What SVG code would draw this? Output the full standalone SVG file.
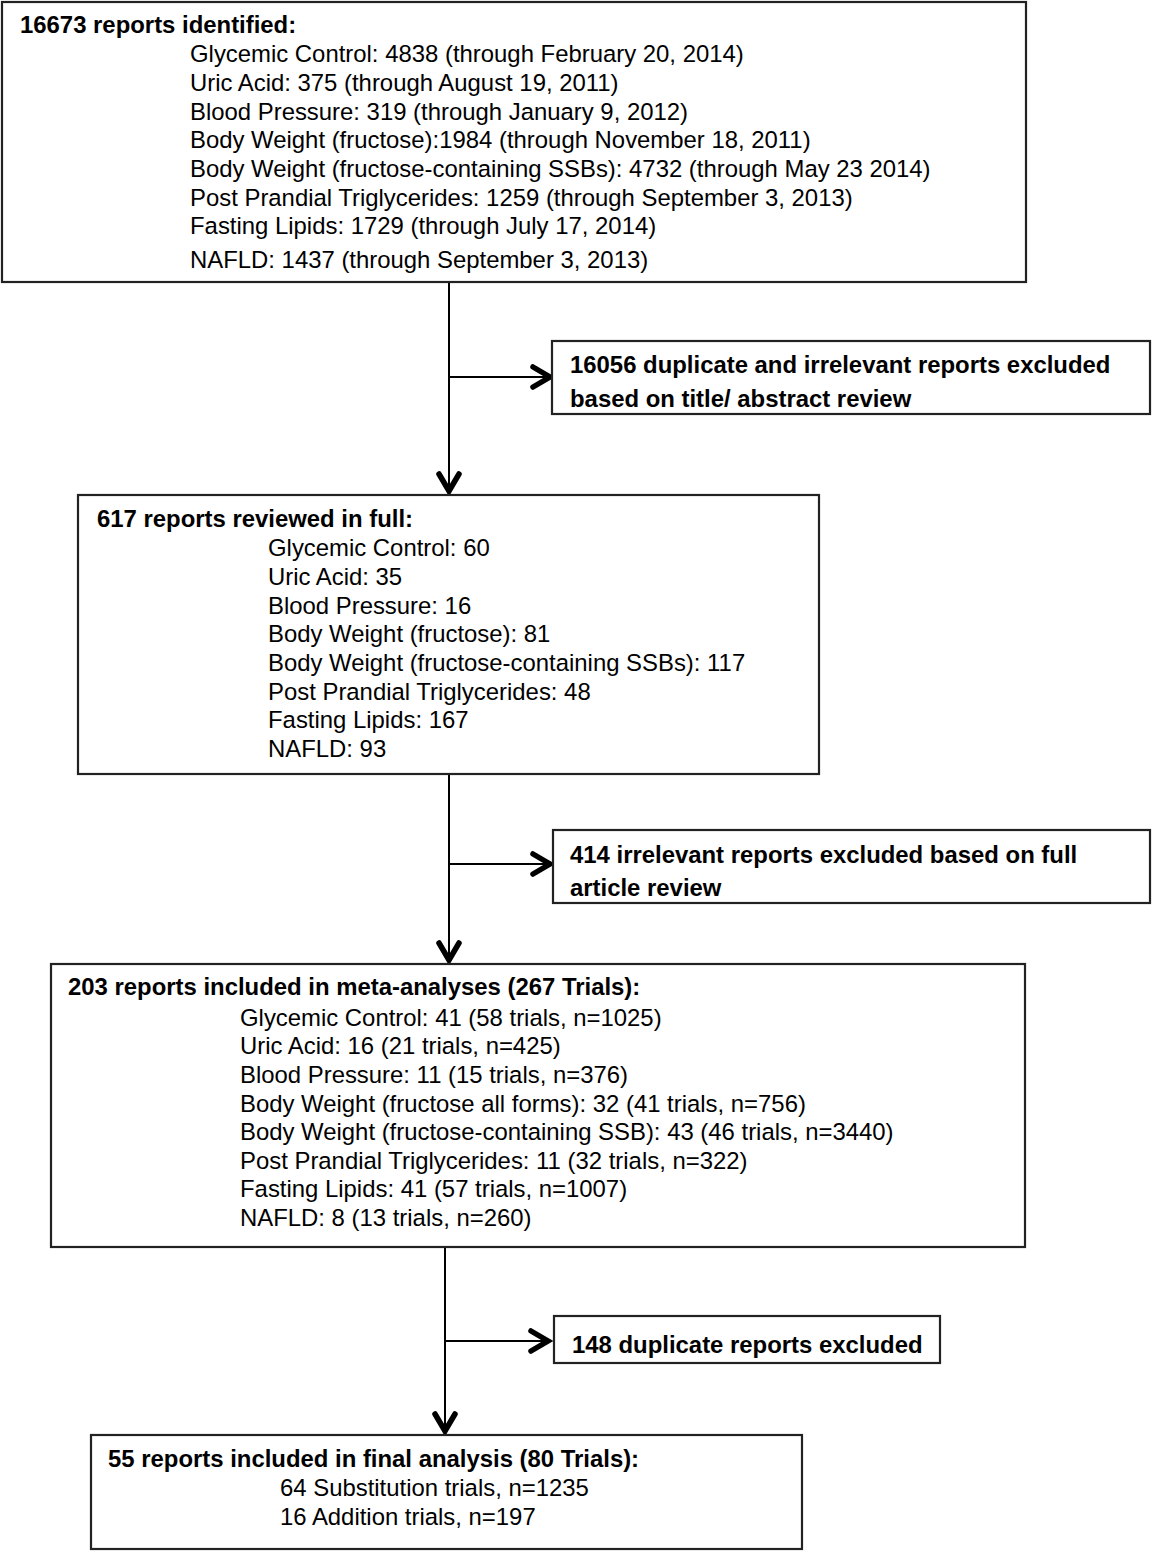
<svg xmlns="http://www.w3.org/2000/svg" width="1152" height="1551" viewBox="0 0 1152 1551">
<style>
.box{fill:#fff;stroke:#222;stroke-width:2.2}
.t{font-family:"Liberation Sans",Arial,sans-serif;font-size:23.9px;fill:#000}
.b{font-weight:bold}
.ln{fill:none;stroke:#000;stroke-width:2}
.ah{fill:none;stroke:#000;stroke-width:5.5;stroke-linecap:round;stroke-linejoin:miter}
</style>
<rect width="1152" height="1551" fill="#fff"/>
<g id="connectors">
<line class="ln" x1="449" y1="282" x2="449" y2="490"/>
<polyline class="ah" points="439,474 449,491 459,474"/>
<line class="ln" x1="449" y1="377" x2="549" y2="377"/>
<polyline class="ah" points="533,367 550,377 533,387"/>
<line class="ln" x1="449" y1="774" x2="449" y2="960"/>
<polyline class="ah" points="439,943 449,960 459,943"/>
<line class="ln" x1="449" y1="864" x2="549" y2="864"/>
<polyline class="ah" points="533,854 550,864 533,874"/>
<line class="ln" x1="445" y1="1247" x2="445" y2="1431"/>
<polyline class="ah" points="435,1414 445,1431 455,1414"/>
<line class="ln" x1="445" y1="1341" x2="547" y2="1341"/>
<polyline class="ah" points="531,1331 548,1341 531,1351"/>
</g>
<g id="n1">
<rect class="box" x="2" y="2" width="1024" height="280"/>
<text class="t b" x="20" y="33">16673 reports identified:</text>
<text class="t" x="190" y="62">Glycemic Control: 4838 (through February 20, 2014)</text>
<text class="t" x="190" y="91">Uric Acid: 375 (through August 19, 2011)</text>
<text class="t" x="190" y="119.5">Blood Pressure: 319 (through January 9, 2012)</text>
<text class="t" x="190" y="148">Body Weight (fructose):1984 (through November 18, 2011)</text>
<text class="t" x="190" y="177">Body Weight (fructose-containing SSBs): 4732 (through May 23 2014)</text>
<text class="t" x="190" y="205.5">Post Prandial Triglycerides: 1259 (through September 3, 2013)</text>
<text class="t" x="190" y="234">Fasting Lipids: 1729 (through July 17, 2014)</text>
<text class="t" x="190" y="268">NAFLD: 1437 (through September 3, 2013)</text>
</g>
<g id="n_excl1">
<rect class="box" x="552" y="341" width="598" height="73"/>
<text class="t b" x="570" y="373">16056 duplicate and irrelevant reports excluded</text>
<text class="t b" x="570" y="407">based on title/ abstract review</text>
</g>
<g id="n2">
<rect class="box" x="78" y="495" width="741" height="279"/>
<text class="t b" x="97" y="527">617 reports reviewed in full:</text>
<text class="t" x="268" y="556">Glycemic Control: 60</text>
<text class="t" x="268" y="585">Uric Acid: 35</text>
<text class="t" x="268" y="614">Blood Pressure: 16</text>
<text class="t" x="268" y="642">Body Weight (fructose): 81</text>
<text class="t" x="268" y="671">Body Weight (fructose-containing SSBs): 117</text>
<text class="t" x="268" y="700">Post Prandial Triglycerides: 48</text>
<text class="t" x="268" y="728">Fasting Lipids: 167</text>
<text class="t" x="268" y="757">NAFLD: 93</text>
</g>
<g id="n_excl2">
<rect class="box" x="553" y="830" width="597" height="73"/>
<text class="t b" x="570" y="863">414 irrelevant reports excluded based on full</text>
<text class="t b" x="570" y="896">article review</text>
</g>
<g id="n3">
<rect class="box" x="51" y="964" width="974" height="283"/>
<text class="t b" x="68" y="995">203 reports included in meta-analyses (267 Trials):</text>
<text class="t" x="240" y="1026">Glycemic Control: 41 (58 trials, n=1025)</text>
<text class="t" x="240" y="1054">Uric Acid: 16 (21 trials, n=425)</text>
<text class="t" x="240" y="1083">Blood Pressure: 11 (15 trials, n=376)</text>
<text class="t" x="240" y="1112">Body Weight (fructose all forms): 32 (41 trials, n=756)</text>
<text class="t" x="240" y="1140">Body Weight (fructose-containing SSB): 43 (46 trials, n=3440)</text>
<text class="t" x="240" y="1169">Post Prandial Triglycerides: 11 (32 trials, n=322)</text>
<text class="t" x="240" y="1197">Fasting Lipids: 41 (57 trials, n=1007)</text>
<text class="t" x="240" y="1226">NAFLD: 8 (13 trials, n=260)</text>
</g>
<g id="n_excl3">
<rect class="box" x="554" y="1316" width="386" height="47"/>
<text class="t b" x="572" y="1353">148 duplicate reports excluded</text>
</g>
<g id="n4">
<rect class="box" x="91" y="1435" width="711" height="114"/>
<text class="t b" x="108" y="1467">55 reports included in final analysis (80 Trials):</text>
<text class="t" x="280" y="1496">64 Substitution trials, n=1235</text>
<text class="t" x="280" y="1525">16 Addition trials, n=197</text>
</g>
</svg>
